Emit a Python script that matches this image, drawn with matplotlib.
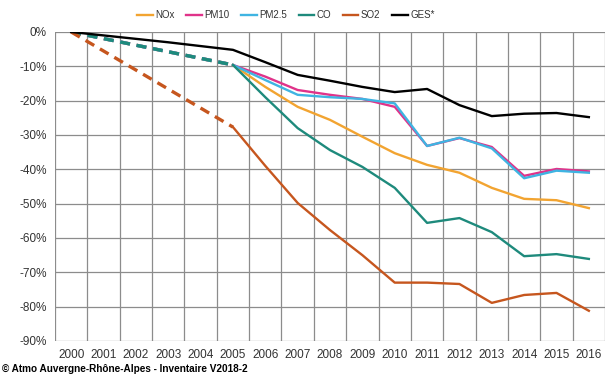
import numpy as np
import matplotlib
matplotlib.use("Agg")
import matplotlib.pyplot as plt

plt.rcParams['font.family'] = ['Liberation Sans Narrow', 'Liberation Sans', 'DejaVu Sans']

years = list(range(2000, 2017))
nan = np.nan

# % change vs 2000 ; 2000-2005 only the two end points are known (dashed)
nox = [0, nan, nan, nan, nan, -9.6, -16.0, -21.8, -25.6, -30.5, -35.3, -38.7, -41.0, -45.4, -48.6, -49.0, -51.3]
pm10 = [0, nan, nan, nan, nan, -9.6, -13.0, -16.9, -18.3, -19.5, -21.8, -33.2, -30.9, -33.5, -41.9, -39.9, -40.6]
pm25 = [0, nan, nan, nan, nan, -9.6, -14.0, -18.3, -19.0, -19.5, -20.8, -33.2, -30.8, -33.9, -42.6, -40.4, -41.0]
co = [0, nan, nan, nan, nan, -9.6, -19.0, -28.0, -34.4, -39.3, -45.4, -55.6, -54.2, -58.3, -65.3, -64.7, -66.1]
so2 = [0, nan, nan, nan, nan, -27.7, -39.0, -49.8, -57.7, -65.0, -73.0, -73.0, -73.4, -78.9, -76.6, -76.0, -81.2]
ges = [0, -1.0, -2.0, -3.0, -4.1, -5.2, -8.8, -12.5, -14.2, -16.0, -17.5, -16.6, -21.3, -24.5, -23.8, -23.6, -24.8]

series = [
    ("NOx", nox, "#F2A431"),
    ("PM10", pm10, "#E0338A"),
    ("PM2.5", pm25, "#3FB4E2"),
    ("CO", co, "#1E8A7C"),
    ("SO2", so2, "#C6561E"),
    ("GES*", ges, "black"),
]

fig = plt.figure(figsize=(6.06, 3.79), dpi=100)
ax = fig.add_axes([0.0908, 0.1003, 0.9076, 0.8153])

x = np.arange(len(years))
for name, vals, col in series:
    v = np.array(vals, dtype=float)
    if np.isnan(v[1]):
        # dashed estimate between 2000 and 2005
        ax.plot([x[0], x[5]], [v[0], v[5]], color=col, lw=2.4, ls=(0, (3, 2)))
    ax.plot(x, v, color=col, lw=1.7, label=name)

ax.set_xlim(-0.5, len(years) - 0.5)
ax.set_ylim(-90, 0)
ax.set_yticks(np.arange(-90, 1, 10))
ax.set_yticklabels([f"{t}%" for t in range(-90, 1, 10)])
ax.set_xticks(x)
ax.set_xticklabels([str(y) for y in years])
ax.set_xticks(np.arange(-0.5, len(years), 1), minor=True)
ax.grid(True, axis='y', color='#8c8c8c', lw=0.9)
ax.grid(True, axis='x', which='minor', color='#8c8c8c', lw=0.9)
ax.tick_params(which='both', length=0, labelsize=8.5, colors='#333333')
ax.tick_params(axis='x', pad=6)
ax.tick_params(axis='y', pad=6)
for s in ax.spines.values():
    s.set_visible(False)
ax.set_axisbelow(True)

ax.legend(loc='center', bbox_to_anchor=(286 / 606, 1 - 15 / 379),
          bbox_transform=fig.transFigure, ncol=6, frameon=False,
          fontsize=7, handlelength=1.6, handletextpad=0.25, columnspacing=1.2,
          labelcolor='#333333')

fig.text(0.003, 0.012, "© Atmo Auvergne-Rhône-Alpes - Inventaire V2018-2",
         fontsize=7.2, fontweight='bold', ha='left', va='bottom')

fig.savefig("out.png", dpi=100)
